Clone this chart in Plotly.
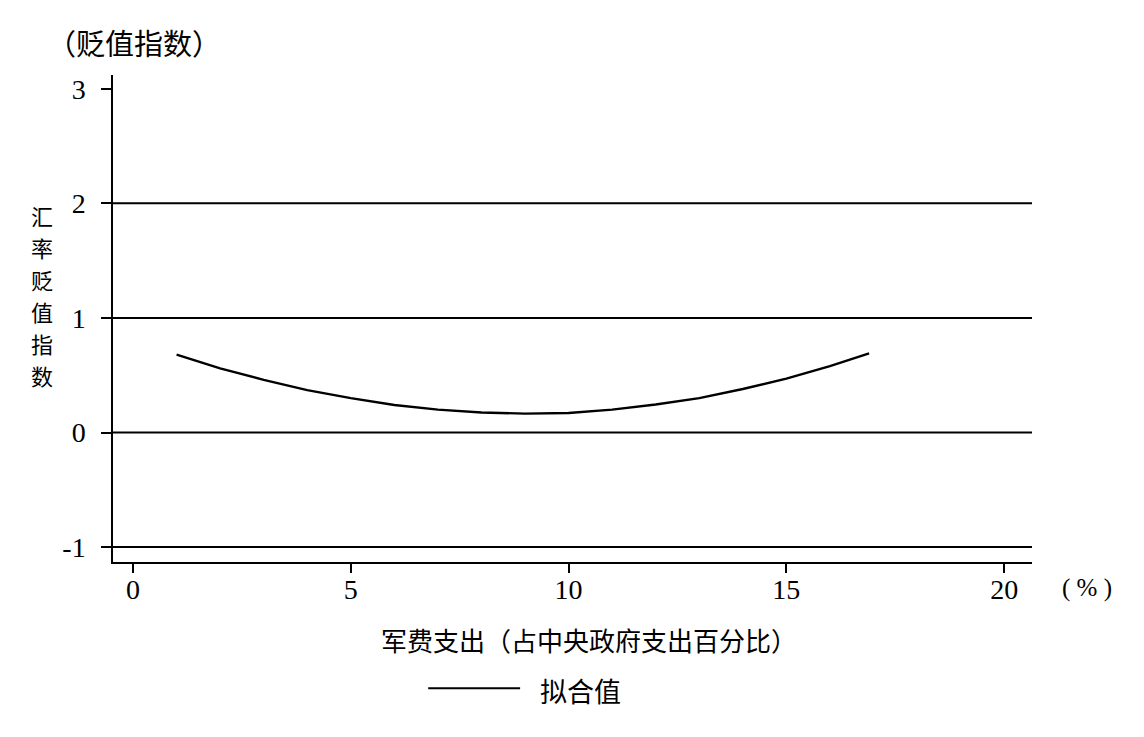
import plotly.graph_objects as go

# fitted values
mil_spend = [1.0, 2, 3, 4, 5, 6, 7, 8, 9, 10, 11, 12, 13, 14, 15, 16, 16.9]
fitted = [0.68, 0.56, 0.46, 0.37, 0.30, 0.24, 0.20, 0.175, 0.165, 0.17, 0.20, 0.245, 0.30, 0.38, 0.47, 0.58, 0.69]

x_ticks = [0, 5, 10, 15, 20]
y_ticks = [-1, 0, 1, 2, 3]
y_labels = ["-1", "0", "1", "2", "3"]
ref_lines = [-1, 0, 1, 2]
y_title = "汇率贬值指数"

FONT = "Liberation Serif, Noto Sans CJK SC, serif"
CJK = "Noto Sans CJK SC, sans-serif"

fig = go.Figure()
fig.add_trace(go.Scatter(x=mil_spend, y=fitted, mode="lines",
                         line=dict(color="black", width=2.4), name="拟合值",
                         showlegend=False))

for v in ref_lines:
    fig.add_shape(type="line", xref="paper", x0=0, x1=1, yref="y", y0=v, y1=v,
                  line=dict(color="black", width=2), layer="below")

# legend drawn by hand so the key line is long enough
fig.add_shape(type="line", xref="paper", yref="paper", x0=0.343, x1=0.443,
              y0=-0.259, y1=-0.259, line=dict(color="black", width=2))
fig.add_annotation(text="拟合值", xref="paper", yref="paper", x=0.509, y=-0.263,
                   xanchor="center", yanchor="middle", showarrow=False,
                   font=dict(size=27, family=CJK, color="black"))

fig.add_annotation(text="（贬值指数）", xref="paper", yref="paper", x=-0.074, y=1.068,
                   xanchor="left", yanchor="middle", showarrow=False,
                   font=dict(size=29, family=CJK, color="black"))

# vertical title, one character per line
for i, ch in enumerate(y_title):
    fig.add_annotation(text=ch, xref="paper", yref="paper",
                       x=-0.077, y=0.713 - i * 0.0657, xanchor="center", yanchor="middle",
                       showarrow=False, font=dict(size=22, family=CJK, color="black"))

fig.add_annotation(text="军费支出（占中央政府支出百分比）", xref="paper", yref="paper",
                   x=0.518, y=-0.16, xanchor="center", yanchor="middle", showarrow=False,
                   font=dict(size=26, family=CJK, color="black"))
fig.add_annotation(text="( % )", xref="paper", yref="paper", x=1.06, y=-0.053,
                   xanchor="center", yanchor="middle", showarrow=False,
                   font=dict(size=25, family=FONT, color="black"))

fig.update_xaxes(range=[-0.46, 20.64], tickvals=x_ticks, ticks="outside", ticklen=9,
                 tickwidth=1.5, tickcolor="black", showgrid=False, zeroline=False,
                 showline=True, linecolor="black", linewidth=1.5, ticklabelstandoff=-7,
                 tickfont=dict(size=28, family=FONT, color="black"))
fig.update_yaxes(range=[-1.13, 3.12], tickvals=y_ticks, ticktext=y_labels,
                 ticks="outside", ticklen=10,
                 tickwidth=1.5, tickcolor="black", showgrid=False, zeroline=False,
                 showline=True, linecolor="black", linewidth=1.5, ticklabelstandoff=10,
                 tickfont=dict(size=28, family=FONT, color="black"))

fig.update_layout(width=1144, height=737, plot_bgcolor="white", paper_bgcolor="white",
                  margin=dict(l=105, r=120, t=67, b=183), font=dict(family=FONT))

fig.write_html("out.html")
